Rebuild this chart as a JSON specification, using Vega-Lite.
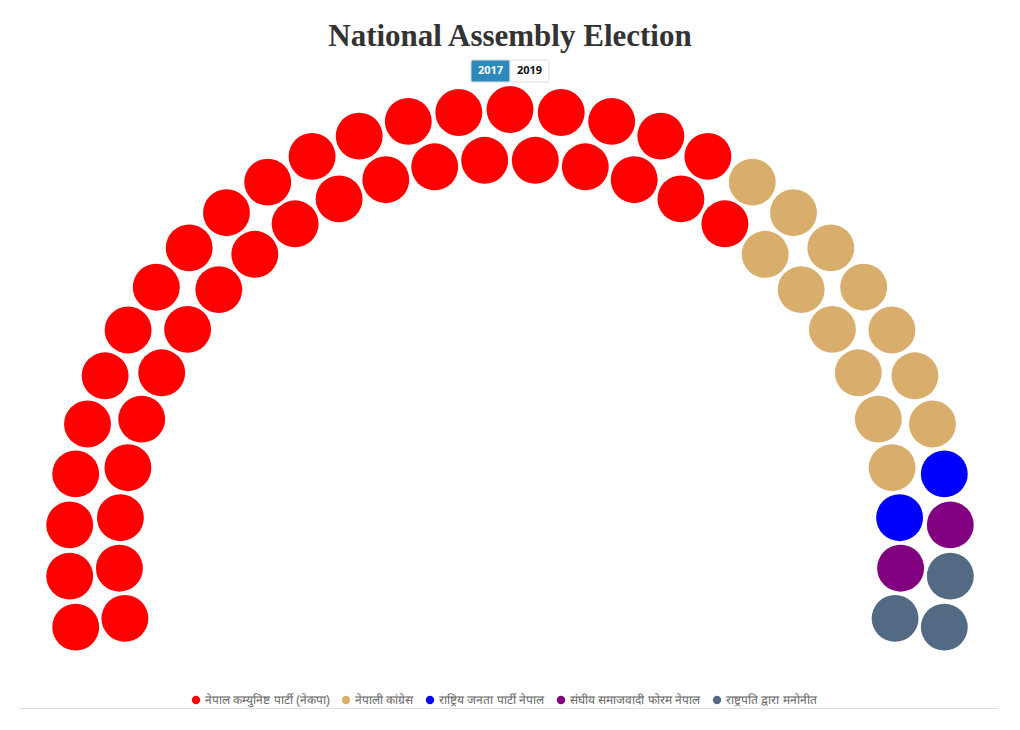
{
  "$schema": "https://vega.github.io/schema/vega-lite/v6.json",
  "width": 1020,
  "height": 730,
  "autosize": {"type": "none"},
  "padding": 0,
  "background": "white",
  "title": {
    "text": "National Assembly Election",
    "font": "Liberation Serif",
    "fontSize": 31,
    "fontWeight": "bold",
    "color": "#333333",
    "anchor": "middle",
    "offset": -53
  },
  "config": {"view": {"stroke": null}},
  "layer": [
    {
      "data": {"values": [
        {"party": "नेपाल कम्युनिष्ट पार्टी (नेकपा)", "x": -434.3, "y": -76.6},
        {"party": "नेपाल कम्युनिष्ट पार्टी (नेकपा)", "x": -440.3, "y": -25.6},
        {"party": "नेपाल कम्युनिष्ट पार्टी (नेकपा)", "x": -440.3, "y": 25.6},
        {"party": "नेपाल कम्युनिष्ट पार्टी (नेकपा)", "x": -434.3, "y": 76.6},
        {"party": "नेपाल कम्युनिष्ट पार्टी (नेकपा)", "x": -422.5, "y": 126.5},
        {"party": "नेपाल कम्युनिष्ट पार्टी (नेकपा)", "x": -404.9, "y": 174.7},
        {"party": "नेपाल कम्युनिष्ट पार्टी (नेकपा)", "x": -381.9, "y": 220.5},
        {"party": "नेपाल कम्युनिष्ट पार्टी (नेकपा)", "x": -353.7, "y": 263.3},
        {"party": "नेपाल कम्युनिष्ट पार्टी (नेकपा)", "x": -320.8, "y": 302.6},
        {"party": "नेपाल कम्युनिष्ट पार्टी (नेकपा)", "x": -283.5, "y": 337.8},
        {"party": "नेपाल कम्युनिष्ट पार्टी (नेकपा)", "x": -242.3, "y": 368.4},
        {"party": "नेपाल कम्युनिष्ट पार्टी (नेकपा)", "x": -197.9, "y": 394.1},
        {"party": "नेपाल कम्युनिष्ट पार्टी (नेकपा)", "x": -150.8, "y": 414.4},
        {"party": "नेपाल कम्युनिष्ट पार्टी (नेकपा)", "x": -101.7, "y": 429.1},
        {"party": "नेपाल कम्युनिष्ट पार्टी (नेकपा)", "x": -51.2, "y": 438.0},
        {"party": "नेपाल कम्युनिष्ट पार्टी (नेकपा)", "x": 0, "y": 441.0},
        {"party": "नेपाल कम्युनिष्ट पार्टी (नेकपा)", "x": 51.2, "y": 438.0},
        {"party": "नेपाल कम्युनिष्ट पार्टी (नेकपा)", "x": 101.7, "y": 429.1},
        {"party": "नेपाल कम्युनिष्ट पार्टी (नेकपा)", "x": 150.8, "y": 414.4},
        {"party": "नेपाल कम्युनिष्ट पार्टी (नेकपा)", "x": 197.9, "y": 394.1},
        {"party": "नेपाली कांग्रेस", "x": 242.3, "y": 368.4},
        {"party": "नेपाली कांग्रेस", "x": 283.5, "y": 337.8},
        {"party": "नेपाली कांग्रेस", "x": 320.8, "y": 302.6},
        {"party": "नेपाली कांग्रेस", "x": 353.7, "y": 263.3},
        {"party": "नेपाली कांग्रेस", "x": 381.9, "y": 220.5},
        {"party": "नेपाली कांग्रेस", "x": 404.9, "y": 174.7},
        {"party": "नेपाली कांग्रेस", "x": 422.5, "y": 126.5},
        {"party": "राष्ट्रिय जनता पार्टी नेपाल", "x": 434.3, "y": 76.6},
        {"party": "संघीय समाजवादी फोरम नेपाल", "x": 440.3, "y": 25.6},
        {"party": "राष्ट्रपति द्वारा मनोनीत", "x": 440.3, "y": -25.6},
        {"party": "राष्ट्रपति द्वारा मनोनीत", "x": 434.3, "y": -76.6},
        {"party": "नेपाल कम्युनिष्ट पार्टी (नेकपा)", "x": -385.1, "y": -67.9},
        {"party": "नेपाल कम्युनिष्ट पार्टी (नेकपा)", "x": -390.6, "y": -17.7},
        {"party": "नेपाल कम्युनिष्ट पार्टी (नेकपा)", "x": -389.6, "y": 32.8},
        {"party": "नेपाल कम्युनिष्ट पार्टी (नेकपा)", "x": -382.1, "y": 82.8},
        {"party": "नेपाल कम्युनिष्ट पार्टी (नेकपा)", "x": -368.3, "y": 131.4},
        {"party": "नेपाल कम्युनिष्ट पार्टी (नेकपा)", "x": -348.3, "y": 177.7},
        {"party": "नेपाल कम्युनिष्ट पार्टी (नेकपा)", "x": -322.4, "y": 221.1},
        {"party": "नेपाल कम्युनिष्ट पार्टी (नेकपा)", "x": -291.2, "y": 260.9},
        {"party": "नेपाल कम्युनिष्ट पार्टी (नेकपा)", "x": -255.2, "y": 296.2},
        {"party": "नेपाल कम्युनिष्ट पार्टी (नेकपा)", "x": -214.9, "y": 326.7},
        {"party": "नेपाल कम्युनिष्ट पार्टी (नेकपा)", "x": -170.9, "y": 351.6},
        {"party": "नेपाल कम्युनिष्ट पार्टी (नेकपा)", "x": -124.2, "y": 370.8},
        {"party": "नेपाल कम्युनिष्ट पार्टी (नेकपा)", "x": -75.3, "y": 383.7},
        {"party": "नेपाल कम्युनिष्ट पार्टी (नेकपा)", "x": -25.3, "y": 390.2},
        {"party": "नेपाल कम्युनिष्ट पार्टी (नेकपा)", "x": 25.3, "y": 390.2},
        {"party": "नेपाल कम्युनिष्ट पार्टी (नेकपा)", "x": 75.3, "y": 383.7},
        {"party": "नेपाल कम्युनिष्ट पार्टी (नेकपा)", "x": 124.2, "y": 370.8},
        {"party": "नेपाल कम्युनिष्ट पार्टी (नेकपा)", "x": 170.9, "y": 351.6},
        {"party": "नेपाल कम्युनिष्ट पार्टी (नेकपा)", "x": 214.9, "y": 326.7},
        {"party": "नेपाली कांग्रेस", "x": 255.2, "y": 296.2},
        {"party": "नेपाली कांग्रेस", "x": 291.2, "y": 260.9},
        {"party": "नेपाली कांग्रेस", "x": 322.4, "y": 221.1},
        {"party": "नेपाली कांग्रेस", "x": 348.3, "y": 177.7},
        {"party": "नेपाली कांग्रेस", "x": 368.3, "y": 131.4},
        {"party": "नेपाली कांग्रेस", "x": 382.1, "y": 82.8},
        {"party": "राष्ट्रिय जनता पार्टी नेपाल", "x": 389.6, "y": 32.8},
        {"party": "संघीय समाजवादी फोरम नेपाल", "x": 390.6, "y": -17.7},
        {"party": "राष्ट्रपति द्वारा मनोनीत", "x": 385.1, "y": -67.9}
      ]},
      "mark": {"type": "circle", "size": 2200, "opacity": 1},
      "encoding": {
        "x": {"field": "x", "type": "quantitative", "axis": null,
              "scale": {"domain": [-510, 510], "nice": false, "zero": false}},
        "y": {"field": "y", "type": "quantitative", "axis": null,
              "scale": {"domain": [-179.5, 550.5], "nice": false, "zero": false}},
        "color": {
          "field": "party", "type": "nominal",
          "scale": {
            "domain": ["नेपाल कम्युनिष्ट पार्टी (नेकपा)", "नेपाली कांग्रेस", "राष्ट्रिय जनता पार्टी नेपाल", "संघीय समाजवादी फोरम नेपाल", "राष्ट्रपति द्वारा मनोनीत"],
            "range": ["#ff0000", "#d9ae6d", "#0000ff", "#800080", "#536a84"]
          },
          "legend": {
            "title": null,
            "orient": "none",
            "direction": "horizontal",
            "columns": 5,
            "legendX": 190,
            "legendY": 694,
            "symbolType": "circle",
            "symbolSize": 70,
            "symbolStrokeWidth": 0,
            "symbolOpacity": 1,
            "labelFontSize": 12,
            "labelColor": "#666666",
            "labelLimit": 400,
            "columnPadding": 10,
            "labelOffset": 3
          }
        }
      }
    },
    {
      "data": {"values": [{"line": "baseline"}]},
      "mark": {"type": "rule", "color": "#dddddd", "strokeWidth": 1},
      "encoding": {
        "x": {"datum": -490, "type": "quantitative", "axis": null,
              "scale": {"domain": [-510, 510], "nice": false, "zero": false}},
        "x2": {"datum": 488},
        "y": {"datum": -158, "type": "quantitative", "axis": null,
              "scale": {"domain": [-179.5, 550.5], "nice": false, "zero": false}}
      }
    },
    {
      "data": {"values": [
        {"year": "2017", "active": "yes", "row": "b"},
        {"year": "2019", "active": "no", "row": "b"}
      ]},
      "encoding": {
        "x": {"field": "year", "type": "nominal", "axis": null,
              "scale": {"type": "band", "range": [471, 549], "paddingInner": 0, "paddingOuter": 0}},
        "y": {"field": "row", "type": "nominal", "axis": null,
              "scale": {"type": "band", "range": [60, 82], "paddingInner": 0, "paddingOuter": 0}}
      },
      "layer": [
        {
          "mark": {"type": "rect", "stroke": "#dddddd", "strokeWidth": 1, "cornerRadius": 2},
          "encoding": {
            "fill": {"condition": {"test": "datum.active === 'yes'", "value": "#2b89bb"}, "value": "#ffffff"}
          }
        },
        {
          "mark": {"type": "text", "fontSize": 11, "fontWeight": "bold", "font": "Open Sans", "baseline": "middle", "align": "center"},
          "encoding": {
            "text": {"field": "year"},
            "color": {"condition": {"test": "datum.active === 'yes'", "value": "#ffffff"}, "value": "#111111"}
          }
        }
      ]
    }
  ],
  "resolve": {"scale": {"x": "independent", "y": "independent"}}
}
